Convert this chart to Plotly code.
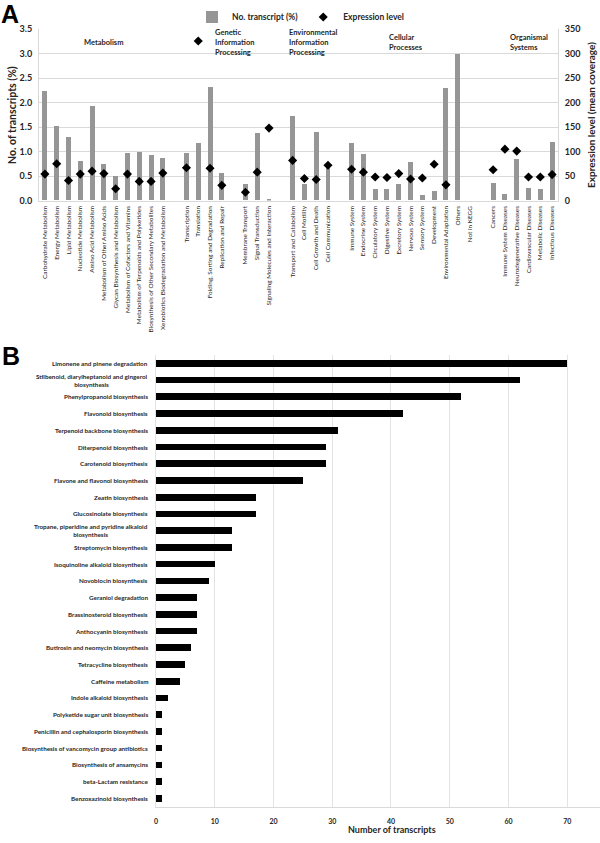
import plotly.graph_objects as go

# ---------------- Panel A data ----------------
categories_A = [
    "Carbohydrate Metabolism", "Energy Metabolism", "Lipid Metabolism", "Nucleotide Metabolism",
    "Amino Acid Metabolism", "Metabolism of Other Amino Acids", "Glycan Biosynthesis and Metabolism",
    "Metabolism of Cofactors and Vitamins", "Metabolism of Terpenoids and Polyketides",
    "Biosynthesis of Other Secondary Metabolites", "Xenobiotics Biodegradation and Metabolism",
    "",
    "Transcription", "Translation", "Folding, Sorting and Degradation", "Replication and Repair",
    "",
    "Membrane Transport", "Signal Transduction", "Signaling Molecules and Interaction",
    "",
    "Transport and Catabolism", "Cell Motility", "Cell Growth and Death", "Cell Communication",
    "",
    "Immune System", "Endocrine System", "Circulatory System", "Digestive System", "Excretory System",
    "Nervous System", "Sensory System", "Development", "Environmental Adaptation", "Others", "Not in KEGG",
    "",
    "Cancers", "Immune System Diseases", "Neurodegenerative Diseases", "Cardiovascular Diseases",
    "Metabolic Diseases", "Infectious Diseases",
]
transcript_pct = [
    2.24, 1.51, 1.30, 0.81, 1.93, 0.73, 0.50, 0.97, 0.99, 0.92, 0.86,
    None,
    0.96, 1.17, 2.31, 0.56,
    None,
    0.33, 1.38, 0.01,
    None,
    1.73, 0.34, 1.39, 0.65,
    None,
    1.17, 0.94, 0.22, 0.22, 0.33, 0.78, 0.10, 0.18, 2.30, 2.98, None,
    None,
    0.36, 0.12, 0.84, 0.24, 0.23, 1.19,
]
expression_level = [
    54, 75, 41, 54, 60, 55, 24, 54, 39, 39, 56,
    None,
    67, 326, 66, 31,
    None,
    17, 58, 148,
    None,
    82, 45, 43, 72,
    None,
    64, 58, 48, 47, 55, 44, 46, 74, 32, None, None,
    None,
    63, 105, 101, 48, 48, 53,
]
group_labels = [
    "Metabolism",
    "Genetic<br>Information<br>Processing",
    "Environmental<br>Information<br>Processing",
    "Cellular<br>Processes",
    "Organismal<br>Systems",
]

# ---------------- Panel B data ----------------
pathways_B = [
    "Limonene and pinene degradation",
    "Stilbenoid, diarylheptanoid and gingerol<br>biosynthesis",
    "Phenylpropanoid biosynthesis",
    "Flavonoid biosynthesis",
    "Terpenoid backbone biosynthesis",
    "Diterpenoid biosynthesis",
    "Carotenoid biosynthesis",
    "Flavone and flavonol biosynthesis",
    "Zeatin biosynthesis",
    "Glucosinolate biosynthesis",
    "Tropane, piperidine and pyridine alkaloid<br>biosynthesis",
    "Streptomycin biosynthesis",
    "Isoquinoline alkaloid biosynthesis",
    "Novobiocin biosynthesis",
    "Geraniol degradation",
    "Brassinosteroid biosynthesis",
    "Anthocyanin biosynthesis",
    "Butirosin and neomycin biosynthesis",
    "Tetracycline biosynthesis",
    "Caffeine metabolism",
    "Indole alkaloid biosynthesis",
    "Polyketide sugar unit biosynthesis",
    "Penicillin and cephalosporin biosynthesis",
    "Biosynthesis of vancomycin group antibiotics",
    "Biosynthesis of ansamycins",
    "beta-Lactam resistance",
    "Benzoxazinoid biosynthesis",
]
transcript_counts_B = [70, 62, 52, 42, 31, 29, 29, 25, 17, 17, 13, 13, 10, 9, 7, 7, 7, 6, 5, 4, 2, 1, 1, 1, 1, 1, 1]

# ---------------- layout helpers ----------------
W, H = 600, 843
def px_x(p):
    return p / W
def px_y(p):
    return (H - p) / H

FONT = "Lato, Arial, sans-serif"
GRID = "#d9d9d9"
TXT = "#262626"

slots = list(range(len(categories_A)))

fig = go.Figure()
fig.add_trace(go.Bar(
    x=slots, y=transcript_pct, name="No. transcript (%)",
    marker=dict(color="#969696", line=dict(width=0)), width=0.42,
    xaxis="x", yaxis="y",
))
fig.add_trace(go.Scatter(
    x=slots, y=expression_level, name="Expression level", mode="markers",
    marker=dict(symbol="diamond", color="black", size=7),
    xaxis="x", yaxis="y2",
))
fig.add_trace(go.Bar(
    x=transcript_counts_B, y=pathways_B, orientation="h", showlegend=False,
    marker=dict(color="black", line=dict(width=0)), width=0.4,
    xaxis="x3", yaxis="y3",
))

# Panel A geometry
a_left, a_right, a_top, a_bot = 39, 558, 29.3, 200.5
# Panel B geometry
b_left, b_right, b_top, b_bot = 156, 599.5, 355, 806.7

annotations = []
header_pos = [(5.0, "center"), (14.24, "left"), (20.54, "left"), (28.97, "left"), (39.25, "left")]
for (xpos, anchor), txt in zip(header_pos, group_labels):
    annotations.append(dict(
        x=xpos, y=3.24, xref="x", yref="y", text=txt, showarrow=False,
        xanchor=anchor, yanchor="middle", align="left",
        font=dict(family=FONT, size=7.5, color=TXT, weight="bold"),
    ))
for name in pathways_B:
    annotations.append(dict(
        x=px_x(150), y=name, xref="paper", yref="y3", text=name, showarrow=False,
        xanchor="right", yanchor="middle", align="center",
        font=dict(family=FONT, size=6.3, color=TXT, weight="bold"),
    ))
annotations.append(dict(x=px_x(10), y=px_y(14), xref="paper", yref="paper", text="A",
                        showarrow=False, xanchor="center", yanchor="middle",
                        font=dict(family="Liberation Sans, Arial", size=25, color="black", weight="bold")))
annotations.append(dict(x=px_x(11), y=px_y(356), xref="paper", yref="paper", text="B",
                        showarrow=False, xanchor="center", yanchor="middle",
                        font=dict(family="Liberation Sans, Arial", size=25, color="black", weight="bold")))
annotations.append(dict(x=px_x(12), y=px_y(115), xref="paper", yref="paper", text="No. of transcripts (%)",
                        showarrow=False, textangle=-90, xanchor="center", yanchor="middle",
                        font=dict(family=FONT, size=10.5, color=TXT, weight="bold")))
annotations.append(dict(x=px_x(591), y=px_y(115), xref="paper", yref="paper",
                        text="Expression level (mean coverage)",
                        showarrow=False, textangle=-90, xanchor="center", yanchor="middle",
                        font=dict(family=FONT, size=10, color=TXT, weight="bold")))
annotations.append(dict(x=px_x(392), y=px_y(829), xref="paper", yref="paper",
                        text="Number of transcripts",
                        showarrow=False, xanchor="center", yanchor="middle",
                        font=dict(family=FONT, size=9, color=TXT, weight="bold")))

fig.update_layout(
    width=W, height=H, margin=dict(l=0, r=0, t=0, b=0, autoexpand=False),
    paper_bgcolor="white", plot_bgcolor="rgba(0,0,0,0)",
    font=dict(family=FONT, color=TXT),
    bargap=0,
    showlegend=True,
    legend=dict(orientation="h", x=px_x(192), y=px_y(17), xanchor="left", yanchor="middle",
                font=dict(family=FONT, size=8.5, color=TXT, weight="bold"),
                itemwidth=30, traceorder="normal", bgcolor="rgba(0,0,0,0)"),
    xaxis=dict(
        domain=[px_x(a_left), px_x(a_right)], anchor="y", automargin=False,
        range=[-0.5, len(categories_A) - 0.5],
        tickmode="array", tickvals=slots, ticktext=categories_A, tickangle=-90,
        tickfont=dict(family=FONT, size=6.4, color=TXT),
        showgrid=False, zeroline=False, showline=True, linecolor=GRID, ticks="",
        ticklabelstandoff=2,
    ),
    yaxis=dict(
        domain=[px_y(a_bot), px_y(a_top)], anchor="x", automargin=False,
        range=[0, 3.5], dtick=0.5, tickformat=".1f",
        tickfont=dict(family=FONT, size=9, color=TXT, weight="bold"),
        showgrid=True, gridcolor=GRID, gridwidth=1, zeroline=False,
        showline=True, linecolor=GRID, ticks="", ticklabelstandoff=4,
    ),
    yaxis2=dict(
        overlaying="y", side="right", anchor="x", automargin=False,
        range=[0, 350], dtick=50,
        tickfont=dict(family=FONT, size=9, color=TXT, weight="bold"),
        showgrid=False, zeroline=False, showline=True, linecolor=GRID, ticks="",
        ticklabelstandoff=4,
    ),
    xaxis3=dict(
        domain=[px_x(b_left), px_x(b_right)], anchor="y3", automargin=False,
        range=[0, 75.5], tickmode="array", tickvals=[0, 10, 20, 30, 40, 50, 60, 70],
        tickfont=dict(family=FONT, size=7, color=TXT, weight="bold"),
        showgrid=True, gridcolor="#e3e3e3", zeroline=False,
        showline=True, linecolor=GRID, ticks="", ticklabelstandoff=8,
    ),
    yaxis3=dict(
        domain=[px_y(b_bot), px_y(b_top)], anchor="x3", automargin=False,
        type="category", categoryorder="array", categoryarray=pathways_B,
        autorange="reversed", showticklabels=False,
        showgrid=False, zeroline=False, showline=True, linecolor="#e3e3e3", ticks="",
    ),
    annotations=annotations,
)

fig.write_html("out.html", config={"displayModeBar": False},
               post_script="document.body.style.margin='0';")
